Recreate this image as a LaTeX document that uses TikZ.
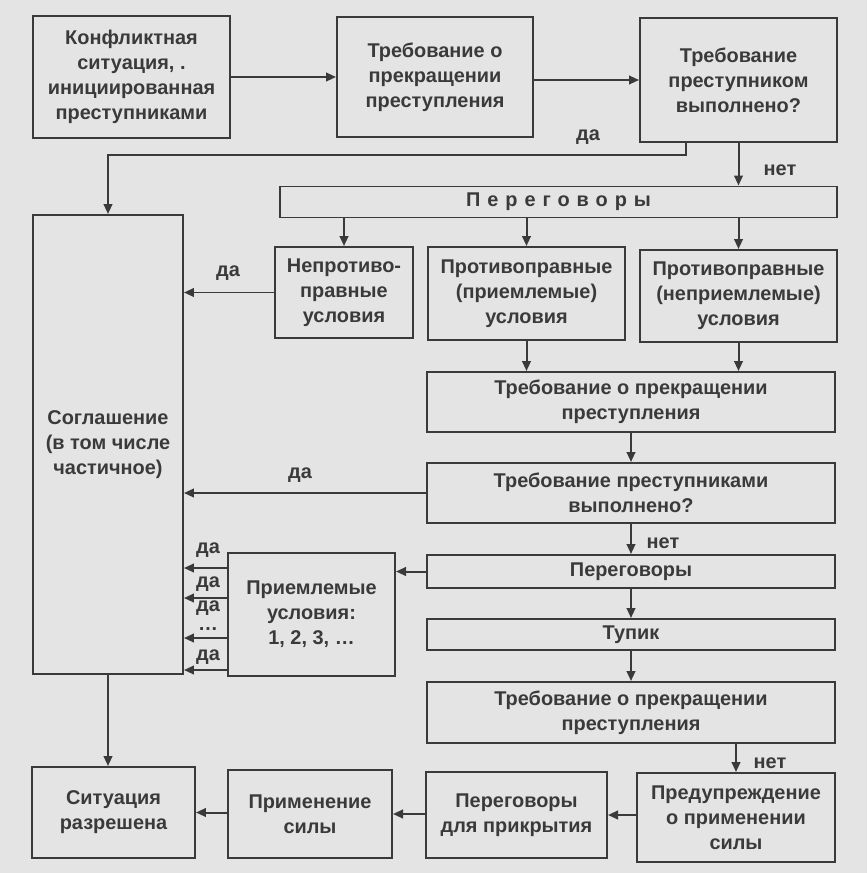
\documentclass[tikz,border=0pt]{standalone}
\usepackage{fontspec}
\setmainfont{Liberation Sans}
\usepackage{tikz}
\usetikzlibrary{arrows.meta,positioning}
\definecolor{Ink}{HTML}{3A3A3A}
\definecolor{Paper}{HTML}{E4E4E4}

\begin{document}
\begin{tikzpicture}[
  x=0.03cm,y=-0.03cm,
  box/.style={draw=Ink,line width=1.7pt,text=Ink,align=center,inner sep=0pt,font=\bfseries\fontsize{17}{21.3}\selectfont},
  sz/.style 2 args={minimum width=#1*0.03cm,minimum height=#2*0.03cm},
  lbl/.style={text=Ink,inner sep=0pt,font=\bfseries\fontsize{17}{21.3}\selectfont},
  arrow/.style={-{Triangle[length=3mm,width=2.6mm]},line width=1.7pt,draw=Ink}
]
\fill[Paper] (0,0) rectangle (867,873);

% top row
\node[box,sz={197}{122}] (konf) at (131.5,77) {Конфликтная\\ситуация, .\\инициированная\\преступниками};
\node[box,sz={196}{120}] (treb1) at (435,77) {Требование о\\прекращении\\преступления};
\node[box,sz={197}{124}] (vyp1) at (738.5,80) {Требование\\преступником\\выполнено?};

% negotiations
\node[box,sz={557}{31},font=\bfseries\addfontfeatures{LetterSpace=35}\fontsize{17}{21.3}\selectfont] (peregov) at (558.5,202) {Переговоры};
\node[box,sz={150}{459}] (soglash) at (108,444.5) {Соглашение\\(в том числе\\частичное)};
\node[box,sz={138}{91}] (neprot) at (344,292.5) {Непротиво-\\правные\\условия};
\node[box,sz={197}{93}] (priem) at (526.5,293.5) {Противоправные\\(приемлемые)\\условия};
\node[box,sz={197}{92}] (nepriem) at (738.5,296) {Противоправные\\(неприемлемые)\\условия};

% right column
\node[box,sz={408}{60}] (treb2) at (631,402) {Требование о прекращении\\преступления};
\node[box,sz={408}{60}] (vyp2) at (631,493) {Требование преступниками\\выполнено?};
\node[box,sz={408}{33}] (peregov2) at (631,571.5) {Переговоры};
\node[box,sz={167}{123}] (usl) at (311.5,614.5) {Приемлемые\\условия:\\1, 2, 3, \ldots};
\node[box,sz={408}{31}] (tupik) at (631,634.5) {Тупик};
\node[box,sz={408}{61}] (treb3) at (631,712.5) {Требование о прекращении\\преступления};

% bottom row
\node[box,sz={163}{91}] (sit) at (113.5,812.5) {Ситуация\\разрешена};
\node[box,sz={164}{88}] (prim) at (310,814) {Применение\\силы};
\node[box,sz={181}{86}] (prikr) at (516.5,815) {Переговоры\\для прикрытия};
\node[box,sz={198}{89}] (predupr) at (736,817.5) {Предупреждение\\о применении\\силы};

% connectors
\coordinate (daturn) at (686,155);
\draw[arrow] (konf.east) -- (konf.east -| treb1.west);
\draw[arrow] (treb1.east |- vyp1.west) -- (vyp1.west);
\draw[arrow] (vyp1.south -| daturn) -- (daturn) -| (soglash.north);
\draw[arrow] (vyp1.south) -- (vyp1.south |- peregov.north);
\draw[arrow] (peregov.south -| neprot.north) -- (neprot.north);
\draw[arrow] (peregov.south -| priem.north) -- (priem.north);
\draw[arrow] (peregov.south -| nepriem.north) -- (nepriem.north);
\draw[arrow] (neprot.west) -- (neprot.west -| soglash.east);
\draw[arrow] (priem.south) -- (priem.south |- treb2.north);
\draw[arrow] (nepriem.south) -- (nepriem.south |- treb2.north);
\draw[arrow] (treb2) -- (vyp2);
\draw[arrow] (vyp2.west) -- (vyp2.west -| soglash.east);
\draw[arrow] (vyp2) -- (peregov2);
\draw[arrow] (peregov2.west) -- (peregov2.west -| usl.east);
\draw[arrow] (peregov2) -- (tupik);
\draw[arrow] (tupik) -- (treb3);
\foreach \yy in {568,598,638,670}
  \draw[arrow] (usl.west |- 0,\yy) -- (soglash.east |- 0,\yy);
\draw[arrow] (soglash.south) -- (soglash.south |- sit.north);
\draw[arrow] (predupr.north |- treb3.south) -- (predupr.north);
\draw[arrow] (predupr.west |- prikr.east) -- (prikr.east);
\draw[arrow] (prikr.west |- prim.east) -- (prim.east);
\draw[arrow] (prim.west |- sit.east) -- (sit.east);

% labels
\node[lbl] (da1) at (588,137) {да};
\node[lbl] (net1) at (780,170) {нет};
\node[lbl] (da2) at (228,273) {да};
\node[lbl] (da3) at (300,475) {да};
\node[lbl] (net2) at (663,543) {нет};
\node[lbl] (net3) at (770,763) {нет};
\foreach \yy [count=\i] in {550,584,608,657}
  \node[lbl] (dd\i) at (208,\yy) {да};
\node[lbl] (dots) at (208,629) {\ldots};
\end{tikzpicture}
\end{document}
